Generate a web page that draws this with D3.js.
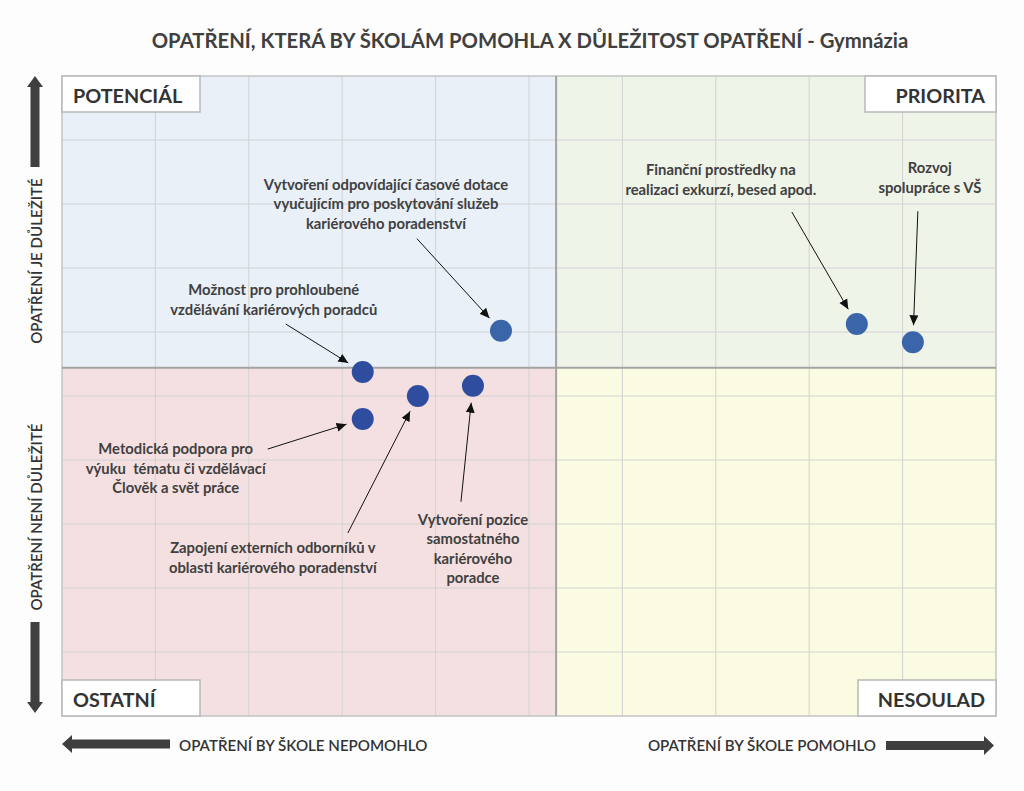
<!DOCTYPE html>
<html>
<head>
<meta charset="utf-8">
<script src="https://cdn.jsdelivr.net/npm/d3@7"></script>
<style>
  html, body { margin: 0; padding: 0; background: #fdfdfd; }
  text { font-family: Lato, "Open Sans", sans-serif; fill: #404040; }
</style>
</head>
<body>
<div id="chart-area"></div>
<script>
// data (x = by pomohlo, y = důležitost), 0-100 scale
const labels = [
  "Vytvoření odpovídající časové dotace|vyučujícím pro poskytování služeb|kariérového poradenství",
  "Možnost pro prohloubené|vzdělávání kariérových poradců",
  "Metodická podpora pro|výuku  tématu či vzdělávací|Člověk a svět práce",
  "Zapojení externích odborníků v|oblasti kariérového poradenství",
  "Vytvoření pozice|samostatného|kariérového|poradce",
  "Finanční prostředky na|realizaci exkurzí, besed apod.",
  "Rozvoj|spolupráce s VŠ"
];
const helpValues = [47.0, 32.2, 32.2, 38.1, 44.0, 85.1, 91.1];
const importanceValues = [60.2, 53.75, 46.4, 50.0, 51.6, 61.25, 58.4];
const xMid = 52.9;
const yMid = 54.4;

const quadrantNames = ["POTENCIÁL", "PRIORITA", "OSTATNÍ", "NESOULAD"];
const title = "OPATŘENÍ, KTERÁ BY ŠKOLÁM POMOHLA X DŮLEŽITOST OPATŘENÍ - Gymnázia";
const axisTexts = ["OPATŘENÍ JE DŮLEŽITÉ", "OPATŘENÍ NENÍ DŮLEŽITÉ", "OPATŘENÍ BY ŠKOLE NEPOMOHLO", "OPATŘENÍ BY ŠKOLE POMOHLO"];

// label placement relative to each point (pixels): text centre / arrow start
const labelLayout = [
  { tx: -115, ty: -141, ax: -84, ay: -92 },
  { tx: -89, ty: -77, ax: -77, ay: -48 },
  { tx: -187, ty: 35, ax: -95, ay: 30 },
  { tx: -145, ty: 157, ax: -70, ay: 137 },
  { tx: 0, ty: 139, ax: -12, ay: 116 },
  { tx: -136, ty: -149, ax: -65, ay: -112 },
  { tx: 17, ty: -169, ax: 5, ay: -131 }
];

(function () {
  const W = 1024, H = 791;
  const margin = { top: 76, right: 28, bottom: 75, left: 62 };
  const width = W - margin.left - margin.right;
  const height = H - margin.top - margin.bottom;

  const svg = d3.select("#chart-area").append("svg")
    .attr("width", W).attr("height", H);

  svg.append("defs").append("marker")
    .attr("id", "arr")
    .attr("viewBox", "0 0 10 10")
    .attr("refX", 10).attr("refY", 5)
    .attr("markerWidth", 10).attr("markerHeight", 10)
    .attr("markerUnits", "userSpaceOnUse")
    .attr("orient", "auto")
    .append("path").attr("d", "M0,0.5 L10,5 L0,9.5 Z").attr("fill", "#111");

  const g = svg.append("g").attr("transform", `translate(${margin.left},${margin.top})`);

  const x = d3.scaleLinear().domain([0, 100]).range([0, width]);
  const y = d3.scaleLinear().domain([0, 100]).range([height, 0]);

  // quadrant backgrounds
  const quads = [
    { x0: 0, x1: xMid, y0: yMid, y1: 100, c: "#e9f0f8" },
    { x0: xMid, x1: 100, y0: yMid, y1: 100, c: "#eff4e9" },
    { x0: 0, x1: xMid, y0: 0, y1: yMid, c: "#f5e0e1" },
    { x0: xMid, x1: 100, y0: 0, y1: yMid, c: "#fbfbe2" }
  ];
  g.selectAll(".quad").data(quads).join("rect")
    .attr("x", d => x(d.x0)).attr("y", d => y(d.y1))
    .attr("width", d => x(d.x1) - x(d.x0)).attr("height", d => y(d.y0) - y(d.y1))
    .attr("fill", d => d.c);

  // grid
  g.append("g").selectAll("line").data(x.ticks(10)).join("line")
    .attr("x1", d => x(d)).attr("x2", d => x(d)).attr("y1", 0).attr("y2", height)
    .attr("stroke", "#d2d2d2").attr("stroke-width", 1);
  g.append("g").selectAll("line").data(y.ticks(10)).join("line")
    .attr("y1", d => y(d)).attr("y2", d => y(d)).attr("x1", 0).attr("x2", width)
    .attr("stroke", "#d2d2d2").attr("stroke-width", 1);

  g.append("rect").attr("width", width).attr("height", height)
    .attr("fill", "none").attr("stroke", "#bdbdbd");

  // mid lines
  g.append("line").attr("x1", x(xMid)).attr("x2", x(xMid)).attr("y1", 0).attr("y2", height)
    .attr("stroke", "#a3a3a3").attr("stroke-width", 2);
  g.append("line").attr("y1", y(yMid)).attr("y2", y(yMid)).attr("x1", 0).attr("x2", width)
    .attr("stroke", "#a3a3a3").attr("stroke-width", 2);

  // quadrant name boxes
  const boxes = [
    { w: 138, left: true, top: true },
    { w: 131, left: false, top: true },
    { w: 138, left: true, top: false },
    { w: 138, left: false, top: false }
  ];
  boxes.forEach((b, i) => {
    const bx = b.left ? 0 : width - b.w;
    const by = b.top ? 0 : height - 36;
    g.append("rect").attr("x", bx).attr("y", by).attr("width", b.w).attr("height", 36)
      .attr("fill", "#ffffff").attr("stroke", "#b8b8b8").attr("stroke-width", 1.5);
    g.append("text")
      .attr("x", b.left ? bx + 11 : width - 11).attr("y", by + 27)
      .attr("text-anchor", b.left ? "start" : "end")
      .attr("font-size", 19.8).attr("font-weight", 700).style("fill", "#333")
      .text(quadrantNames[i]);
  });

  // points
  const pts = labels.map((l, i) => ({
    label: l, hx: helpValues[i], iy: importanceValues[i], lay: labelLayout[i]
  }));
  const r = 11;

  // annotation arrows
  g.selectAll(".ann").data(pts).join("line")
    .attr("x1", d => x(d.hx) + d.lay.ax).attr("y1", d => y(d.iy) + d.lay.ay)
    .attr("x2", d => {
      const dx = -d.lay.ax, dy = -d.lay.ay, L = Math.hypot(dx, dy);
      return x(d.hx) - dx / L * (r + 6);
    })
    .attr("y2", d => {
      const dx = -d.lay.ax, dy = -d.lay.ay, L = Math.hypot(dx, dy);
      return y(d.iy) - dy / L * (r + 6);
    })
    .attr("stroke", "#111").attr("stroke-width", 1)
    .attr("marker-end", "url(#arr)");

  g.selectAll(".dot").data(pts).join("circle")
    .attr("cx", d => x(d.hx)).attr("cy", d => y(d.iy)).attr("r", r)
    .attr("fill", d => d.iy < yMid ? "#2f4d9e" : "#3b65a9");

  // annotation texts
  pts.forEach(d => {
    const t = g.append("text")
      .attr("text-anchor", "middle").attr("font-size", 14.8).attr("font-weight", 700)
      .style("white-space", "pre");
    d.label.split("|").forEach((line, k) => {
      t.append("tspan").attr("x", x(d.hx) + d.lay.tx)
        .attr("y", y(d.iy) + d.lay.ty + k * 19.5).text(line);
    });
  });

  // title
  svg.append("text").attr("x", 530).attr("y", 48).attr("text-anchor", "middle")
    .attr("font-size", 20.3).attr("font-weight", 700).text(title);

  // axis arrows
  const arrowFill = "#3f3f3f";
  svg.append("path").attr("fill", arrowFill)
    .attr("d", "M35,76 L43,87 L39.5,87 L39.5,167 L30.5,167 L30.5,87 L27,87 Z");
  svg.append("path").attr("fill", arrowFill)
    .attr("d", "M35,713 L43,702 L39.5,702 L39.5,622 L30.5,622 L30.5,702 L27,702 Z");
  svg.append("path").attr("fill", arrowFill)
    .attr("d", "M62,744 L72,735 L72,739.5 L170,739.5 L170,748.5 L72,748.5 L72,753 Z");
  svg.append("path").attr("fill", arrowFill)
    .attr("d", "M994,745.5 L984,736 L984,741 L886,741 L886,750 L984,750 L984,755 Z");

  const axFont = 15.1;
  svg.append("text").attr("transform", "translate(42,261) rotate(-90)")
    .attr("text-anchor", "middle").attr("font-size", axFont).attr("font-weight", 600)
    .style("fill", "#333").text(axisTexts[0]);
  svg.append("text").attr("transform", "translate(42,517) rotate(-90)")
    .attr("text-anchor", "middle").attr("font-size", axFont).attr("font-weight", 600)
    .style("fill", "#333").text(axisTexts[1]);
  svg.append("text").attr("x", 179).attr("y", 751)
    .attr("font-size", axFont).attr("font-weight", 600).style("fill", "#333").text(axisTexts[2]);
  svg.append("text").attr("x", 876).attr("y", 751).attr("text-anchor", "end")
    .attr("font-size", axFont).attr("font-weight", 600).style("fill", "#333").text(axisTexts[3]);
})();
</script>
</body>
</html>
